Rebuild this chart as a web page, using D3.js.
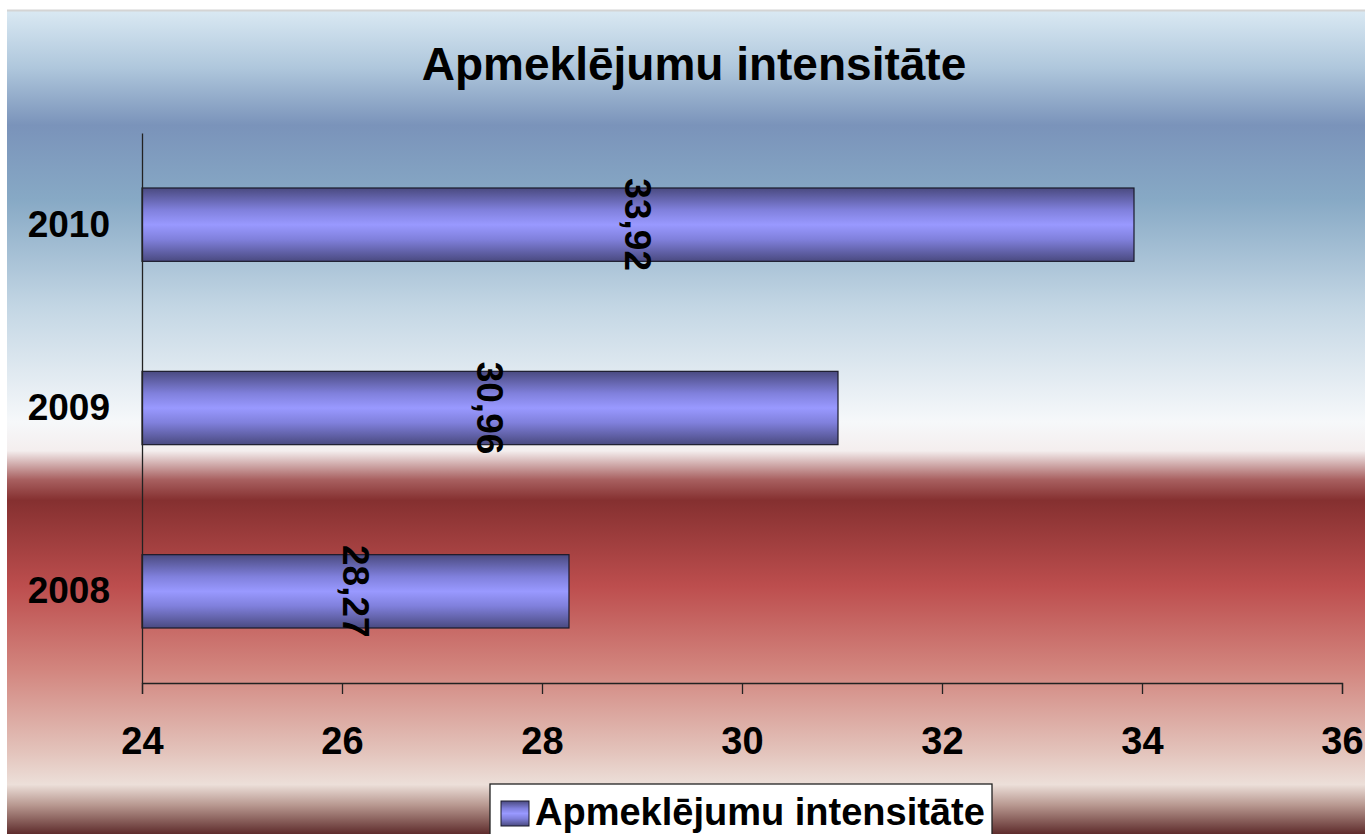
<!DOCTYPE html>
<html>
<head>
<meta charset="utf-8">
<script src="https://cdn.jsdelivr.net/npm/d3@7"></script>
<style>
  body { margin: 0; background: #fff; }
  svg { display: block; font-family: "Liberation Sans", Arial, sans-serif; }
</style>
</head>
<body>
<div id="chart"></div>
<script>
// Data
const years = ["2010", "2009", "2008"];
const values = [33.92, 30.96, 28.27];
const xTicks = [24, 26, 28, 30, 32, 34, 36];
const title = "Apmeklējumu intensitāte";
const seriesName = "Apmeklējumu intensitāte";

const width = 1365, height = 834;
const svg = d3.select("#chart").append("svg")
  .attr("width", width)
  .attr("height", height);

const defs = svg.append("defs");

// background gradient (blue sky to red)
const bg = defs.append("linearGradient")
  .attr("id", "bg")
  .attr("x1", 0).attr("y1", 0).attr("x2", 0).attr("y2", 1);
[
  [0.00, "#dae9f3"],
  [0.07, "#afc7dc"],
  [0.14, "#7a93ba"],
  [0.23, "#87a9c5"],
  [0.36, "#c3d6e4"],
  [0.50, "#f6f8fa"],
  [0.535, "#f4eeee"],
  [0.57, "#a86060"],
  [0.595, "#853030"],
  [0.70, "#bd4e4e"],
  [0.80, "#d2857e"],
  [0.90, "#e3c3bb"],
  [0.94, "#ecdfd9"],
  [0.965, "#b89890"],
  [1.00, "#5e2c2c"]
].forEach(([o, c]) => bg.append("stop").attr("offset", o).attr("stop-color", c));

// bar gradient, dark edges and light middle
const barGrad = defs.append("linearGradient")
  .attr("id", "bar")
  .attr("x1", 0).attr("y1", 0).attr("x2", 0).attr("y2", 1);
[
  [0.00, "#4a4a80"],
  [0.30, "#8080dc"],
  [0.50, "#9999ff"],
  [0.70, "#8080dc"],
  [1.00, "#4a4a80"]
].forEach(([o, c]) => barGrad.append("stop").attr("offset", o).attr("stop-color", c));

svg.append("rect")
  .attr("x", 7).attr("y", 10)
  .attr("width", width - 7).attr("height", height - 10)
  .attr("fill", "url(#bg)");
svg.append("line")
  .attr("x1", 7).attr("x2", width)
  .attr("y1", 10.5).attr("y2", 10.5)
  .attr("stroke", "#d4d4d4").attr("stroke-width", 2);

// title
svg.append("text")
  .attr("x", 694).attr("y", 80)
  .attr("text-anchor", "middle")
  .attr("font-size", 46).attr("font-weight", "bold")
  .text(title);

// scales
const x = d3.scaleLinear().domain([24, 36]).range([142, 1342]);
const y = d3.scaleBand().domain(years).range([133, 683])
  .paddingInner(0.6).paddingOuter(0.3);

// bars
svg.selectAll("rect.bar")
  .data(years)
  .join("rect")
  .attr("class", "bar")
  .attr("x", x(24))
  .attr("y", d => y(d))
  .attr("width", (d, i) => x(values[i]) - x(24))
  .attr("height", y.bandwidth())
  .attr("fill", "url(#bar)")
  .attr("stroke", "#1a1a2a")
  .attr("stroke-width", 1.2);

// value labels, rotated
svg.selectAll("text.val")
  .data(years)
  .join("text")
  .attr("class", "val")
  .attr("transform", (d, i) => `translate(${(x(values[i]) + x(24)) / 2},${y(d) + y.bandwidth() / 2}) rotate(90)`)
  .attr("text-anchor", "middle")
  .attr("dy", "0.35em")
  .attr("font-size", 37).attr("font-weight", "bold")
  .text((d, i) => d3.format(".2f")(values[i]).replace(".", ","));

// x axis
const xAxis = svg.append("g")
  .attr("transform", "translate(0,683)")
  .call(d3.axisBottom(x).tickValues(xTicks).tickSize(11).tickSizeOuter(11).tickPadding(33));
xAxis.select(".domain").attr("stroke", "#222").attr("stroke-width", 1.3);
xAxis.selectAll(".tick line").attr("stroke", "#222").attr("stroke-width", 1.3);
xAxis.selectAll(".tick text")
  .attr("font-size", 38).attr("font-weight", "bold")
  .attr("font-family", "Liberation Sans, Arial, sans-serif")
  .attr("fill", "#000");

// y axis
const yAxis = svg.append("g")
  .attr("transform", "translate(142,0)")
  .call(d3.axisLeft(y).tickSize(0).tickSizeOuter(0).tickPadding(32));
yAxis.select(".domain").attr("stroke", "#222").attr("stroke-width", 1.3);
yAxis.selectAll(".tick text")
  .attr("font-size", 37).attr("font-weight", "bold")
  .attr("font-family", "Liberation Sans, Arial, sans-serif")
  .attr("fill", "#000");

// legend
const legend = svg.append("g").attr("transform", "translate(490,784)");
legend.append("rect")
  .attr("width", 502).attr("height", 60)
  .attr("fill", "#fff").attr("stroke", "#222").attr("stroke-width", 1.3);
legend.append("rect")
  .attr("x", 11).attr("y", 17)
  .attr("width", 28).attr("height", 25)
  .attr("fill", "url(#bar)").attr("stroke", "#1a1a2a");
legend.append("text")
  .attr("x", 45).attr("y", 41)
  .attr("font-size", 38).attr("font-weight", "bold")
  .text(seriesName);
</script>
</body>
</html>
